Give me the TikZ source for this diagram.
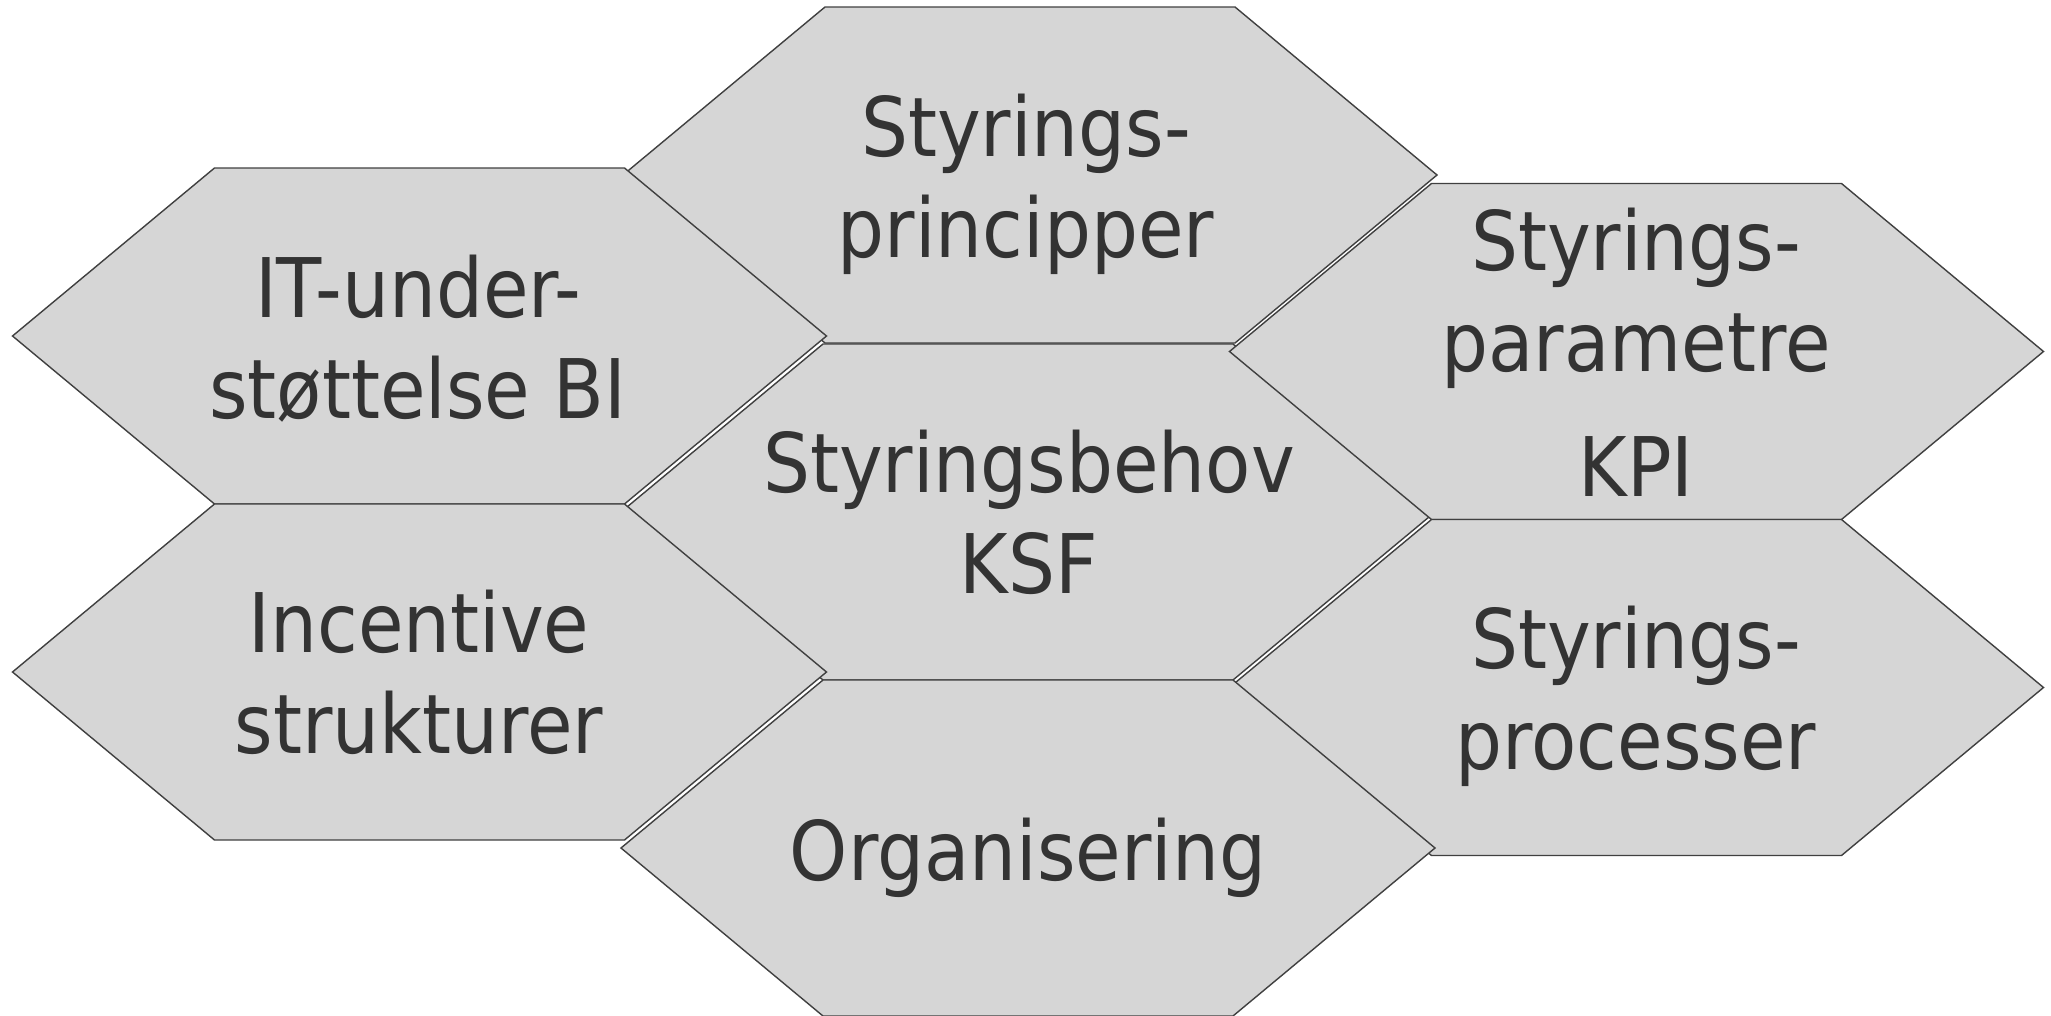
\documentclass[tikz,border=0pt]{standalone}
\usepackage{fontspec}
\setmainfont{DejaVu Sans}[FakeStretch=0.90]
\definecolor{hexfill}{RGB}{214,214,214}
\definecolor{hexline}{RGB}{64,64,64}
\definecolor{hextext}{RGB}{51,51,51}
\tikzset{
  hexa/.style={fill=hexfill, draw=hexline, line width=0.4pt},
  hexlabel/.style={font=\fontsize{23.4}{28.7}\selectfont, text=hextext, align=center, inner sep=0pt}
}
\begin{document}
\begin{tikzpicture}
	\useasboundingbox (0,0) rectangle (20.51,10.15);
	% honeycomb cells
	\foreach \n/\x/\y in {prin/10.30/8.40, itbi/4.195/6.79, behov/10.28/5.03, param/16.365/6.635, incent/4.195/3.43, proc/16.365/3.275, org/10.28/1.67} {
		\coordinate (\n) at (\x,\y);
		\draw[hexa] (\n) ++(-4.07,0) -- ++(2.02,1.68) -- ++(4.1,0) -- ++(2.02,-1.68) -- ++(-2.02,-1.68) -- ++(-4.1,0) -- cycle;
	}
	% texts
	\node[hexlabel] (prinT) at (10.26,8.305) {Styrings-\\principper};
	\node[hexlabel] (itbiT) at (4.18,6.76) {IT-under-\\støttelse BI};
	\node[hexlabel] (behovT) at (10.29,5.025) {Styringsbehov\\KSF};
	\node[hexlabel] (paramT) at (16.36,6.625) {Styrings-\\parametre\\[0.24cm]KPI};
	\node[hexlabel] (incentT) at (4.19,3.43) {Incentive\\strukturer};
	\node[hexlabel] (procT) at (16.36,3.185) {Styrings-\\processer};
	\node[hexlabel] (orgT) at (10.28,1.57) {Organisering};
\end{tikzpicture}
\end{document}
